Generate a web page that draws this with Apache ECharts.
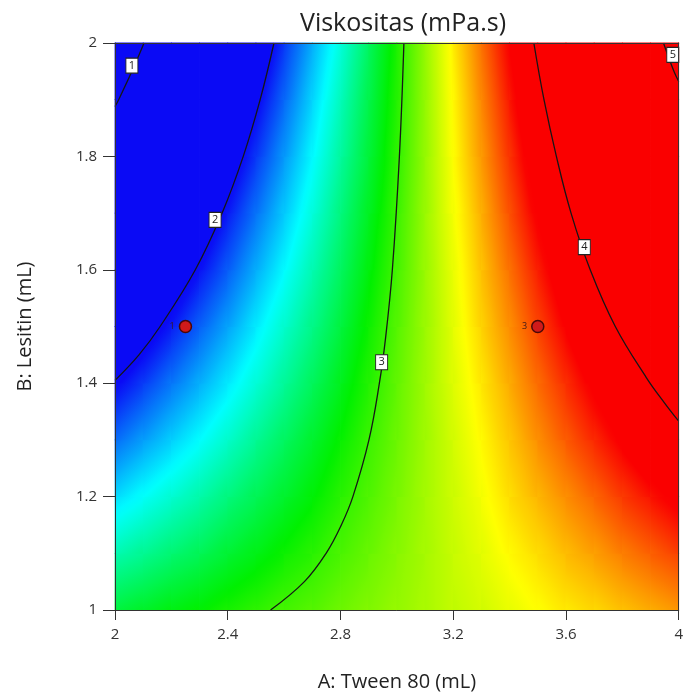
<!DOCTYPE html>
<html>
<head>
<meta charset="utf-8">
<script src="https://cdn.jsdelivr.net/npm/echarts@6/dist/echarts.min.js"></script>
<style>
html,body{margin:0;padding:0;background:#ffffff;}
#chart{width:686px;height:700px;}
</style>
</head>
<body>
<div id="chart"></div>
<script>
// Grid nodes (A: Tween 80 in mL, B: Lesitin in mL)
var tweenNodes = [2.0,2.1,2.2,2.3,2.4,2.5,2.6,2.7,2.8,2.9,3.0,3.1,3.2,3.3,3.4,3.5,3.6,3.7,3.8,3.9,4.0];
var lesitinNodes = [1.0,1.1,1.2,1.3,1.4,1.5,1.6,1.7,1.8,1.9,2.0];

// Viscosity (mPa.s) estimated at each node, rows from B=1.0 (bottom) to B=2.0 (top)
var viskositas = [
[2.79,2.83,2.87,2.90,2.94,2.98,3.02,3.05,3.09,3.13,3.16,3.20,3.24,3.27,3.31,3.35,3.39,3.42,3.46,3.50,3.53],
[2.59,2.64,2.70,2.75,2.81,2.86,2.92,2.97,3.03,3.08,3.14,3.19,3.25,3.30,3.36,3.41,3.47,3.52,3.58,3.63,3.69],
[2.38,2.46,2.53,2.60,2.68,2.75,2.82,2.89,2.97,3.04,3.11,3.19,3.26,3.33,3.41,3.48,3.55,3.62,3.70,3.77,3.84],
[2.18,2.27,2.36,2.45,2.54,2.64,2.73,2.82,2.91,3.00,3.09,3.18,3.27,3.36,3.45,3.55,3.64,3.73,3.82,3.91,4.00],
[1.98,2.09,2.20,2.30,2.41,2.52,2.63,2.74,2.85,2.96,3.07,3.18,3.29,3.39,3.50,3.61,3.72,3.83,3.94,4.05,4.16],
[1.78,1.90,2.03,2.16,2.28,2.41,2.54,2.66,2.79,2.92,3.05,3.17,3.30,3.43,3.55,3.68,3.81,3.93,4.06,4.19,4.32],
[1.57,1.72,1.86,2.01,2.15,2.30,2.44,2.59,2.73,2.88,3.02,3.17,3.31,3.46,3.60,3.75,3.89,4.04,4.18,4.33,4.47],
[1.37,1.54,1.70,1.86,2.03,2.19,2.35,2.51,2.68,2.84,3.00,3.17,3.33,3.49,3.66,3.82,3.98,4.14,4.31,4.47,4.63],
[1.17,1.35,1.54,1.72,1.90,2.08,2.26,2.44,2.62,2.80,2.98,3.16,3.35,3.53,3.71,3.89,4.07,4.25,4.43,4.61,4.79],
[0.97,1.17,1.37,1.57,1.77,1.97,2.17,2.37,2.57,2.77,2.96,3.16,3.36,3.56,3.76,3.96,4.16,4.36,4.56,4.76,4.95],
[0.78,0.99,1.21,1.43,1.64,1.86,2.08,2.30,2.51,2.73,2.95,3.16,3.38,3.60,3.81,4.03,4.25,4.47,4.68,4.90,5.12]
];

// Contour lines [A, B]
var contour1 = [[2.103,2.0],[2.060,1.95],[2.013,1.90],[2.0,1.888]];
var contour2 = [[2.564,2.0],[2.515,1.9],[2.455,1.8],[2.38,1.7],[2.285,1.6],[2.16,1.5],[2.085,1.45],[2.0,1.405]];
var contour3 = [[3.025,2.0],[3.009,1.8],[2.984,1.6],[2.96,1.48],[2.938,1.4],[2.901,1.3],[2.844,1.2],[2.803,1.15],[2.749,1.1],[2.672,1.05],[2.552,1.0]];
var contour4 = [[3.486,2.0],[3.522,1.9],[3.566,1.8],[3.618,1.7],[3.686,1.6],[3.775,1.5],[3.885,1.41],[3.95,1.365],[4.0,1.333]];
var contour5 = [[3.946,2.0],[3.983,1.95],[4.0,1.932]];
var contourLevels = ['1','2','3','4','5'];
var contourLabelPos = [[2.06,1.96],[2.355,1.688],[2.946,1.437],[3.665,1.64],[3.979,1.979]];

// Design points
var designPoints = [[2.25,1.5],[3.5,1.5]];
var designCounts = ['1','3'];

var xTicks = {min:2, max:4, interval:0.4};
var yTicks = {min:1, max:2, interval:0.2};
var colorRange = {min:2.0, max:3.8};
var colorStops = ['#0a0af5','#00ffff','#00f000','#ffff00','#fa0000'];

// cells: [A0, B0, A1, B1, v(bottom-left), v(bottom-right), v(top-left), v(top-right)]
var cells = [];
for (var i = 0; i < lesitinNodes.length - 1; i++) {
  for (var k = 0; k < tweenNodes.length - 1; k++) {
    cells.push([tweenNodes[k], lesitinNodes[i], tweenNodes[k+1], lesitinNodes[i+1],
      viskositas[i][k], viskositas[i][k+1], viskositas[i+1][k], viskositas[i+1][k+1]]);
  }
}
var contours = [contour1, contour2, contour3, contour4, contour5];
var labelData = contourLabelPos.map(function(p, j){ return [p[0], p[1], contourLevels[j]]; });
var pointData = designPoints.map(function(p, j){ return [p[0], p[1], designCounts[j]]; });

function colorOf(v) {
  var t = (v - colorRange.min) / (colorRange.max - colorRange.min);
  t = Math.max(0, Math.min(1, t));
  return echarts.color.lerp(t, colorStops);
}

function renderCell(params, api) {
  var p0 = api.coord([api.value(0), api.value(1)]);
  var p1 = api.coord([api.value(2), api.value(3)]);
  var left = p0[0], right = p1[0], bottom = p0[1], top = p1[1];
  var W = right - left, H = bottom - top;
  var v00 = api.value(4), v10 = api.value(5), v01 = api.value(6), v11 = api.value(7);
  var vc = (v00 + v10 + v01 + v11) / 4;
  var gx = ((v10 - v00) + (v11 - v01)) / 2 / W;
  var gy = -((v01 - v00) + (v11 - v10)) / 2 / H;
  var cx = left + W / 2, cy = top + H / 2;
  var g = Math.sqrt(gx * gx + gy * gy);
  var fill;
  if (g < 1e-9) {
    fill = colorOf(vc);
  } else {
    var nx = gx / g, ny = gy / g;
    var L = (W * Math.abs(nx) + H * Math.abs(ny)) / 2;
    var stops = [];
    for (var s = 0; s <= 10; s++) {
      var t = s / 10;
      stops.push({offset: t, color: colorOf(vc + g * L * (2 * t - 1))});
    }
    fill = new echarts.graphic.LinearGradient(cx - nx * L, cy - ny * L, cx + nx * L, cy + ny * L, stops, true);
  }
  return {type:'rect', shape:{x:left - 0.4, y:top - 0.4, width:W + 0.8, height:H + 0.8}, style:{fill:fill, stroke:null}};
}

var FONT = 'Open Sans';
var chart = echarts.init(document.getElementById('chart'), null, {renderer:'canvas'});
var series = [{
  type:'custom', coordinateSystem:'cartesian2d', xAxisIndex:0, yAxisIndex:0,
  data:cells, renderItem:renderCell, encode:{x:[0,2], y:[1,3]}, silent:true, z:1, progressive:0
}];
contours.forEach(function(c){
  series.push({type:'line', xAxisIndex:0, yAxisIndex:0, data:c, smooth:0.4, symbol:'none', silent:true, z:5,
    lineStyle:{color:'#161616', width:1.3}});
});
series.push({type:'scatter', xAxisIndex:0, yAxisIndex:0, data:labelData, symbol:'rect', symbolSize:[12,15], silent:true, z:8,
  itemStyle:{color:'#ffffff', borderColor:'#222', borderWidth:1, opacity:1},
  label:{show:true, position:'inside', formatter:function(p){return p.value[2];}, color:'#222', fontSize:11, fontFamily:FONT}});
series.push({type:'scatter', xAxisIndex:0, yAxisIndex:0, data:pointData, symbol:'circle', symbolSize:12, silent:true, z:9,
  itemStyle:{color:'#d01a1a', borderColor:'#4a0808', borderWidth:1.5, opacity:1},
  label:{show:true, position:'left', distance:4, formatter:function(p){return p.value[2];}, color:'#3a1a1a', fontSize:9, fontFamily:FONT}});

chart.setOption({
  animation:false,
  backgroundColor:'#ffffff',
  title:{text:'Viskositas (mPa.s)', left:398, top:6, textAlign:'center',
    textStyle:{fontFamily:FONT, fontSize:25, fontWeight:'normal', color:'#222'}},
  grid:{left:115, right:5, top:43, bottom:90, containLabel:false},
  xAxis:[
    {type:'value', min:xTicks.min, max:xTicks.max, interval:xTicks.interval, position:'bottom', z:10,
     name:'A: Tween 80 (mL)', nameLocation:'middle', nameGap:62,
     nameTextStyle:{fontFamily:FONT, fontSize:20, color:'#222'},
     axisLine:{show:true, lineStyle:{color:'#333', width:1}},
     axisTick:{show:true, inside:false, length:10, lineStyle:{color:'#333'}},
     axisLabel:{margin:17, fontFamily:FONT, fontSize:15, color:'#333',
       formatter:function(v){return String(Math.round(v*10)/10);}},
     splitLine:{show:false}},
    {type:'value', min:xTicks.min, max:xTicks.max, position:'top', z:10,
     axisLine:{show:true, onZero:false, lineStyle:{color:'#333', width:1}}, axisTick:{show:false}, axisLabel:{show:false}, splitLine:{show:false}}
  ],
  yAxis:[
    {type:'value', min:yTicks.min, max:yTicks.max, interval:yTicks.interval, position:'left', z:10,
     name:'B: Lesitin (mL)', nameLocation:'middle', nameGap:80,
     nameTextStyle:{fontFamily:FONT, fontSize:20, color:'#222'},
     axisLine:{show:true, lineStyle:{color:'#333', width:1}},
     axisTick:{show:true, inside:false, length:12, lineStyle:{color:'#333'}},
     axisLabel:{margin:18, fontFamily:FONT, fontSize:15, color:'#333',
       formatter:function(v){return String(Math.round(v*10)/10);}},
     splitLine:{show:false}},
    {type:'value', min:yTicks.min, max:yTicks.max, position:'right', z:10,
     axisLine:{show:true, onZero:false, lineStyle:{color:'#333', width:1}}, axisTick:{show:false}, axisLabel:{show:false}, splitLine:{show:false}}
  ],
  series:series
});
</script>
</body>
</html>
